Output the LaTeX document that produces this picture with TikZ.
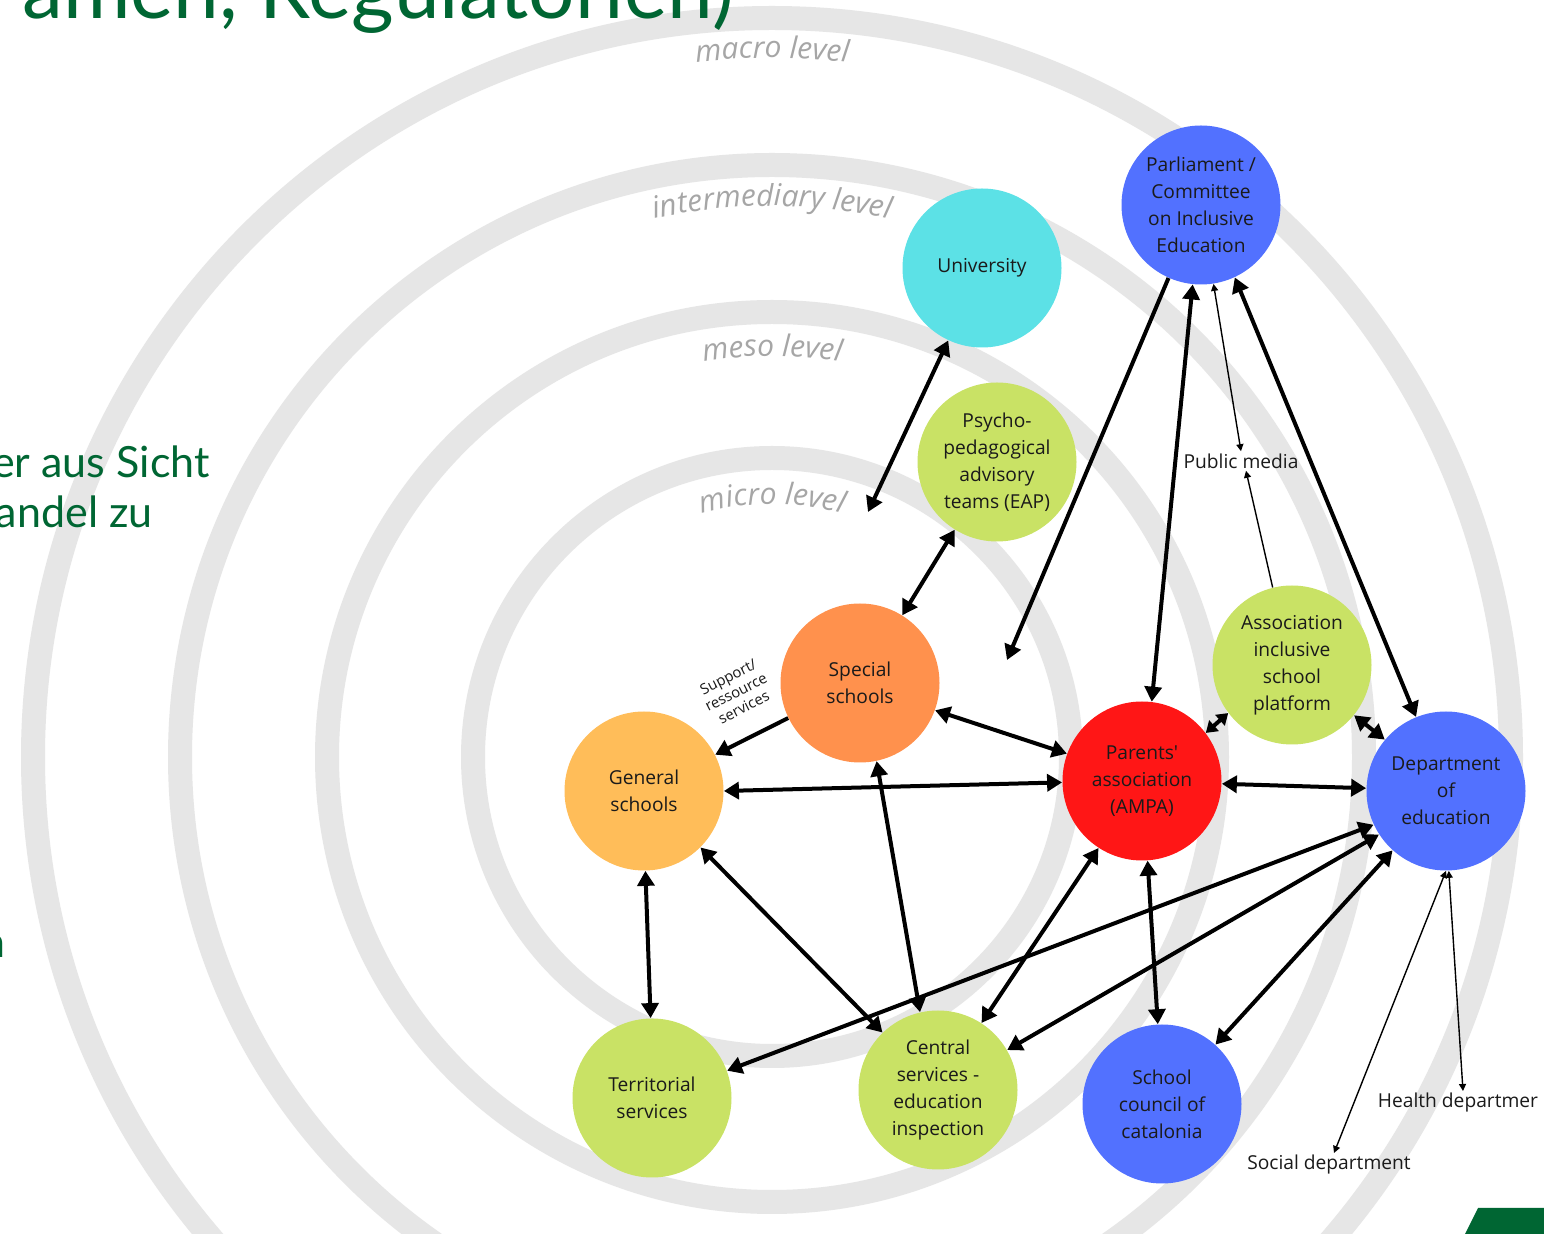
\documentclass[tikz,border=0pt]{standalone}
\usepackage{fontspec}
\setmainfont{Open Sans}
\newfontfamily\nodefont{Open Sans}
\newfontfamily\lvlfont{Open Sans Italic}
\newfontfamily\slidefont{Lato}
\usetikzlibrary{arrows.meta,decorations.text,calc}

\definecolor{actorblue}{HTML}{5271FF}
\definecolor{actorcyan}{HTML}{5CE1E6}
\definecolor{actorlime}{HTML}{C9E265}
\definecolor{actororange}{HTML}{FF914D}
\definecolor{actorpeach}{HTML}{FFBD59}
\definecolor{actorred}{HTML}{FF1616}
\definecolor{ringgray}{HTML}{E6E6E6}
\definecolor{lvlgray}{HTML}{A6A6A6}
\definecolor{slidegreen}{HTML}{006633}
\definecolor{inktext}{HTML}{1A1A1A}

\tikzset{
  actor/.style={circle, minimum size=79.5pt, inner sep=0pt, align=center,
    font=\nodefont\fontsize{9.6}{13.5}\selectfont, text=inktext},
  ring/.style={draw=ringgray, line width=12pt},
  freelabel/.style={inner sep=1pt, font=\nodefont\fontsize{9.6}{13.5}\selectfont, text=inktext},
  link/.style={line width=2pt, {Triangle[length=7.5pt,width=8.5pt]}-{Triangle[length=7.5pt,width=8.5pt]}},
  shortlink/.style={line width=2pt, {Triangle[length=5.5pt,width=7pt]}-{Triangle[length=5.5pt,width=7pt]}},
  onelink/.style={line width=2pt, -{Triangle[length=7.5pt,width=8.5pt]}},
  thinlink/.style={line width=0.7pt, {Triangle[length=3.5pt,width=3.5pt]}-{Triangle[length=3.5pt,width=3.5pt]}},
  thinone/.style={line width=0.7pt, -{Triangle[length=3.5pt,width=3.5pt]}},
  slidetext/.style={inner sep=0pt, text=slidegreen, font=\slidefont\fontsize{21.5}{25}\selectfont},
  lvltext/.style={decorate, decoration={text along path, text align=center, text color=lvlgray,
    text={|\lvlfont\fontsize{15}{17}\selectfont|#1}}},
}

\begin{document}
\begin{tikzpicture}[x=0.5pt,y=-0.5pt]
\clip (0,0) rectangle (1544,1234);
\fill[white] (0,0) rectangle (1544,1234);

% concentric level rings
\coordinate (hub) at (772,757);
\foreach \r in {299,445,592,739}
  \draw[ring] (hub) circle[radius=\r];

% level names along the rings
\path[lvltext={macro level}]
  (hub) ++(235:699) arc[start angle=235, end angle=305, radius=699];
\path[lvltext={intermediary level}]
  (hub) ++(235:551) arc[start angle=235, end angle=305, radius=551];
\path[lvltext={meso level}]
  (hub) ++(235:401) arc[start angle=235, end angle=305, radius=401];
\path[lvltext={micro level}]
  (hub) ++(225:253) arc[start angle=225, end angle=315, radius=253];

% slide text around the diagram
\node[slidetext, font=\slidefont\fontsize{41}{45}\selectfont, anchor=base west] (title) at (22,19) {amen, Regulatorien)};
\node[slidetext, anchor=base east] (line1) at (210,478) {er aus Sicht};
\node[slidetext, anchor=base east] (line2) at (153,528) {andel zu};
\node[slidetext, anchor=base east] (line3) at (6,958) {n};
\fill[slidegreen] (1465,1234) -- (1478,1208) -- (1544,1208) -- (1544,1234) -- cycle;

% actors
\node[actor, fill=actorblue]   (P) at (1201,205) {Parliament /\\Committee\\on Inclusive\\Education};
\node[actor, fill=actorcyan]   (U) at (982,268) {University};
\node[actor, fill=actorlime]   (E) at (997,462) {Psycho-\\pedagogical\\advisory\\teams (EAP)};
\node[actor, fill=actororange] (S) at (860,683) {Special\\schools};
\node[actor, fill=actorpeach]  (G) at (644,791) {General\\schools};
\node[actor, fill=actorred]    (A) at (1142,781) {Parents\textquotesingle\\association\\(AMPA)};
\node[actor, fill=actorlime]   (I) at (1292,665) {Association\\inclusive\\school\\platform};
\node[actor, fill=actorblue]   (D) at (1446,791) {Department\\of\\education};
\node[actor, fill=actorlime]   (T) at (652,1098) {Territorial\\services};
\node[actor, fill=actorlime]   (C) at (938,1090) {Central\\services -\\education\\inspection};
\node[actor, fill=actorblue]   (K) at (1162,1104) {School\\council of\\catalonia};

% free labels
\node[freelabel] (pm) at (1241,461) {Public media};
\node[freelabel] (hd) at (1458,1103) {Health departmer};
\node[freelabel] (sd) at (1329,1165) {Social department};
\node[rotate=27, align=center, inner sep=0pt, text=inktext,
      font=\nodefont\fontsize{7.4}{8.6}\selectfont] (sup) at (736,692) {Support/\\ressource\\services};

\coordinate (pfree) at (1007,660);
\coordinate (ufree) at (868,512);

% relations
\draw[onelink]  (P.-114) -- (pfree);
\draw[link]     (P.-96) -- (A.83);
\draw[thinlink] (P.-81) -- (pm.north);
\draw[link]     (P.-65) -- (D.112);
\draw[link]     (U.-115) -- (ufree);
\draw[link]     (E.-122) -- (S.58);
\draw[thinone]  (I.104) -- ([xshift=2.5pt]pm.south);
\draw[shortlink] (A.37) -- (I.-143);
\draw[link]     (I.-39) -- (D.140);
\draw[onelink]  (S.-154) -- (G.27);
\draw[link]     (S.-20) -- (A.160);
\draw[link]     (G.0) -- (A.181);
\draw[link]     (A.-2) -- (D.178);
\draw[link]     (G.-89) -- (T.91);
\draw[link]     (G.-45) -- (C.134);
\draw[link]     (S.-78) -- (C.103);
\draw[link]     (A.-123) -- (C.57);
\draw[link]     (A.-86) -- (K.93);
\draw[link]     (D.-155) -- (T.20);
\draw[link]     (D.-147) -- (C.30);
\draw[link]     (D.-132) -- (K.48);
\draw[thinlink] (D.-90) -- ([xshift=2.5pt]sd.north);
\draw[thinlink] (D.-88) -- ([xshift=2.5pt]hd.north);
\end{tikzpicture}
\end{document}
